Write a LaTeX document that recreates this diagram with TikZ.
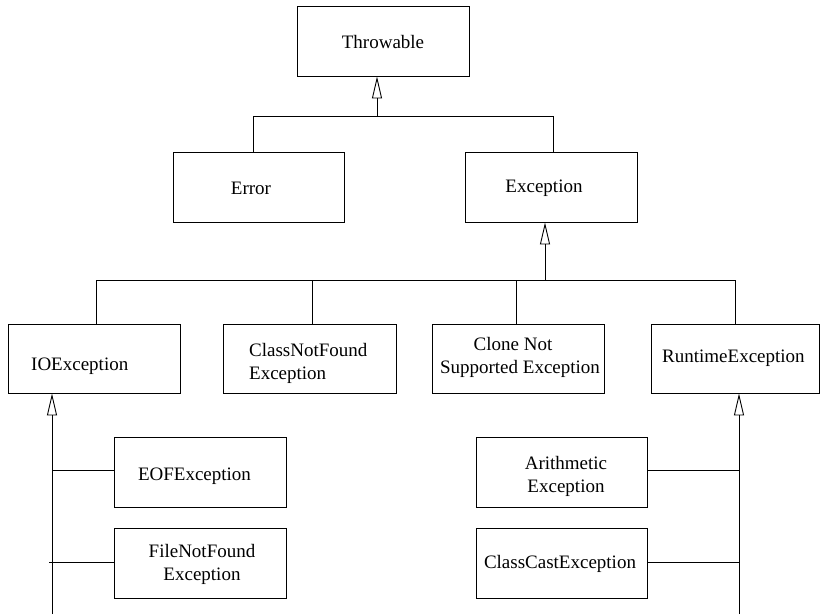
\documentclass[tikz,border=0pt]{standalone}
\usepackage{fontspec}
\setmainfont{Liberation Serif}
\usetikzlibrary{arrows.meta}
\begin{document}
\begin{tikzpicture}[x=1pt,y=-1pt,
  box/.style={draw, line width=0.9pt, rectangle, inner sep=0pt},
  txt/.style={inner sep=0pt, font=\fontsize{19}{23}\selectfont, align=center},
  conn/.style={line width=0.9pt},
  inh/.style={line width=0.9pt, -{Triangle[open, length=22pt, width=10pt, line width=0.9pt]}}]
\useasboundingbox (0,0) rectangle (820,614);
% boxes
\node[box, minimum width=172pt, minimum height=70pt] (thr) at (383,41) {};
\node[box, minimum width=171pt, minimum height=70pt] (err) at (258.5,187) {};
\node[box, minimum width=172pt, minimum height=70pt] (exc) at (551,187) {};
\node[box, minimum width=172pt, minimum height=69pt] (io) at (94,358.5) {};
\node[box, minimum width=173pt, minimum height=69pt] (cnf) at (309.5,358.5) {};
\node[box, minimum width=172pt, minimum height=69pt] (cns) at (518,358.5) {};
\node[box, minimum width=168pt, minimum height=69pt] (rt) at (735,358.5) {};
\node[box, minimum width=172pt, minimum height=70pt] (eof) at (200,472) {};
\node[box, minimum width=172pt, minimum height=70pt] (fnf) at (200,563) {};
\node[box, minimum width=171pt, minimum height=70pt] (ari) at (561.5,472) {};
\node[box, minimum width=171pt, minimum height=70pt] (cce) at (561.5,563) {};
% texts
\node[txt] (thrT) at (383,42) {Throwable};
\node[txt] (errT) at (251,188) {Error};
\node[txt] (excT) at (544,188) {Exception};
\node[txt, anchor=west] (ioT) at (31,366) {IOException};
\node[txt, anchor=west, align=left] (cnfT) at (249,363) {ClassNotFound\\Exception};
\node[txt] (cnsT) at (520,357) {\hspace*{-14pt}Clone Not\\Supported Exception};
\node[txt, anchor=west] (rtT) at (662,358) {RuntimeException};
\node[txt] (eofT) at (194.5,476) {EOFException};
\node[txt] (fnfT) at (202,564) {FileNotFound\\Exception};
\node[txt] (ariT) at (566,476) {Arithmetic\\Exception};
\node[txt] (cceT) at (560,564) {ClassCastException};
% Throwable hierarchy
\coordinate (j1) at (377,116);
\coordinate (j1L) at (253,116);
\coordinate (j1R) at (553,116);
\draw[inh] (j1) -- (j1 |- thr.south);
\draw[conn] (err.north -| j1L) -- (j1L) -- (j1R) -- (exc.north -| j1R);
% Exception hierarchy
\coordinate (j2) at (545,280);
\coordinate (j2a) at (96,280);
\coordinate (j2b) at (312,280);
\coordinate (j2c) at (516,280);
\coordinate (j2d) at (735,280);
\draw[inh] (j2) -- (j2 |- exc.south);
\draw[conn] (io.north -| j2a) -- (j2a) -- (j2d) -- (rt.north -| j2d);
\draw[conn] (j2b) -- (cnf.north -| j2b);
\draw[conn] (j2c) -- (cns.north -| j2c);
% IOException subtree
\coordinate (ioB) at (52,614);
\coordinate (ioE) at (52,470);
\coordinate (ioF) at (49,562);
\draw[inh] (ioB) -- (ioB |- io.south);
\draw[conn] (ioE) -- (eof.west |- ioE);
\draw[conn] (ioF) -- (fnf.west |- ioF);
% RuntimeException subtree
\coordinate (rtB) at (739,614);
\coordinate (rtA) at (739,470);
\coordinate (rtC) at (739,562);
\draw[inh] (rtB) -- (rtB |- rt.south);
\draw[conn] (ari.east |- rtA) -- (rtA);
\draw[conn] (cce.east |- rtC) -- (rtC);
\end{tikzpicture}
\end{document}
